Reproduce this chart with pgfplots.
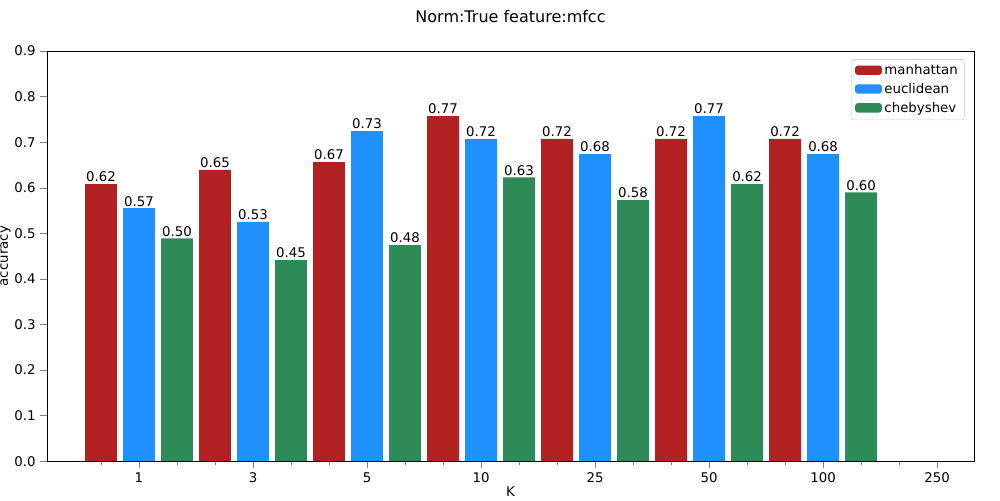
\documentclass[border=0pt]{standalone}
\usepackage{pgfplots}
\pgfplotsset{compat=1.18}
\usepackage{fontspec}
\setmainfont{DejaVu Sans}
\definecolor{man}{HTML}{B22222}
\definecolor{euc}{HTML}{1E90FF}
\definecolor{che}{HTML}{2E8B57}
\begin{document}
\fontsize{10}{12}\selectfont
\begin{tikzpicture}
\useasboundingbox (-35.25pt,-29.25pt) rectangle (714.5pt,345.75pt);
\begin{axis}[
  at={(0,0)}, anchor=south west,
  scale only axis, width=695pt, height=307.5pt,
  xmin=-1.42, xmax=22.97, ymin=0, ymax=0.9,
  ytick={0,0.1,...,0.9},
  yticklabel style={/pgf/number format/.cd,fixed,fixed zerofill,precision=1},
  /pgf/number format/assume math mode=true,
  xtick={1,4,7,10,13,16,19,22},
  xticklabels={1,3,5,10,25,50,100,250},
  minor xtick={0,2,3,5,6,8,9,11,12,14,15,17,18,20,21},
  tick align=outside, tick pos=left,
  major tick length=5pt, minor tick length=3pt,
  xlabel={K}, ylabel={accuracy},
  xlabel style={yshift=4pt}, ylabel style={yshift=-4pt},
  title={Norm:True feature:mfcc}, title style={font=\fontsize{12}{14}\selectfont, yshift=12pt},
  ybar, bar width=0.84, bar shift=0pt,
  nodes near coords, point meta=explicit symbolic,
  every node near coord/.append style={font=\fontsize{10}{12}\selectfont, yshift=-2pt},
  legend style={at={(0.99,0.98)}, anchor=north east, font=\fontsize{10}{12}\selectfont, draw=black!20, rounded corners=2pt, row sep=1pt},
  legend cell align=left,
  legend image code/.code={\fill[#1] (0pt,-3pt) rectangle (20pt,4pt);},
]
\addplot[fill=man, draw=none] table[meta=l] {
x y l
0 0.608 0.62
3 0.639 0.65
6 0.656 0.67
9 0.757 0.77
12 0.707 0.72
15 0.707 0.72
18 0.707 0.72
};
\addplot[fill=euc, draw=none] table[meta=l] {
x y l
1 0.555 0.57
4 0.525 0.53
7 0.724 0.73
10 0.707 0.72
13 0.674 0.68
16 0.757 0.77
19 0.674 0.68
};
\addplot[fill=che, draw=none] table[meta=l] {
x y l
2 0.489 0.50
5 0.441 0.45
8 0.474 0.48
11 0.623 0.63
14 0.573 0.58
17 0.608 0.62
20 0.590 0.60
};
\legend{manhattan,euclidean,chebyshev}
\end{axis}
\end{tikzpicture}
\end{document}
